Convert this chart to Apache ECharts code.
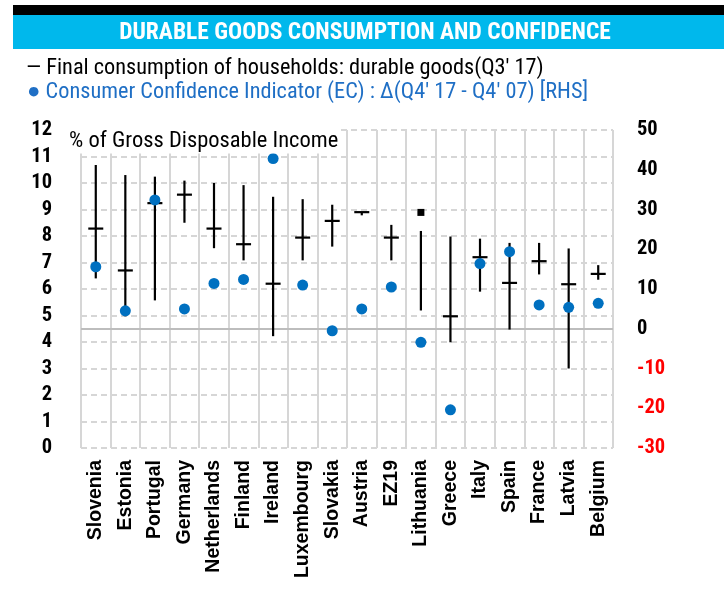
<!DOCTYPE html>
<html>
<head>
<meta charset="utf-8">
<script src="https://cdn.jsdelivr.net/npm/echarts@6/dist/echarts.min.js"></script>
<style>
html,body{margin:0;padding:0;background:#fff;}
#chart{width:724px;height:592px;}
</style>
</head>
<body>
<div id="chart"></div>
<script>
var categories = ['Slovenia','Estonia','Portugal','Germany','Netherlands','Finland','Ireland','Luxembourg','Slovakia','Austria','EZ19','Lithuania','Greece','Italy','Spain','France','Latvia','Belgium'];
// Final consumption of households: durable goods, % of gross disposable income
var rangeHigh  = [10.68,10.30,10.24,10.09,10.00,9.92,9.48,9.39,9.18,8.90,8.42,8.19,7.98,7.90,7.74,7.74,7.53,6.90];
var rangeLow   = [6.40,4.97,5.57,8.50,7.54,7.08,4.22,7.08,7.60,8.78,7.08,5.19,3.99,5.90,4.47,6.55,3.00,6.35];
var durableQ3  = [8.28,6.70,9.24,9.56,8.28,7.69,6.20,7.94,8.57,8.90,7.94,8.89,4.97,7.20,6.23,7.05,6.18,6.57];
// Consumer Confidence Indicator change (RHS)
var confidence = [15.6,4.5,32.4,5.0,11.4,12.4,42.8,11.0,-0.5,5.0,10.5,-3.4,-20.4,16.4,19.4,6.0,5.4,6.4];
var leftTicks  = {min:0, max:12, interval:1};
var rightTicks = {min:-30, max:50, interval:10};

var NARROW = "'Liberation Sans Narrow','Arial Narrow','Roboto Condensed','Liberation Sans',Arial,sans-serif";
var chart = echarts.init(document.getElementById('chart'), null, {renderer:'canvas'});

var rangeData = categories.map(function(c,i){ return [i, rangeHigh[i], rangeLow[i], durableQ3[i]]; });

chart.setOption({
  backgroundColor:'#ffffff',
  animation:false,
  graphic:[
    {type:'rect', left:13, top:5, shape:{width:711, height:10}, style:{fill:'#000'}},
    {type:'rect', left:13, top:15, shape:{width:711, height:34}, style:{fill:'#00B8EC'}},
    {type:'text', x:365, y:33, style:{text:'DURABLE GOODS CONSUMPTION AND CONFIDENCE', fill:'#fff', font:"bold 23.5px "+NARROW, textAlign:'center', textVerticalAlign:'middle'}},
    {type:'text', x:26, y:68, style:{text:'\u2014 Final consumption of households: durable goods(Q3\' 17)', fill:'#000', font:"22.3px "+NARROW, textAlign:'left', textVerticalAlign:'middle'}},
    {type:'text', x:27, y:92, style:{text:'\u25CF Consumer Confidence Indicator (EC) : \u0394(Q4\' 17 - Q4\' 07) [RHS]', fill:'#1F6FC5', font:"22.3px "+NARROW, textAlign:'left', textVerticalAlign:'middle'}},
    {type:'text', x:67, y:141, z:50, style:{text:'% of Gross Disposable Income', fill:'#000', font:"22.5px "+NARROW, textAlign:'left', textVerticalAlign:'middle', backgroundColor:'#fff', padding:[1,2]}}
  ],
  grid:{left:81, right:111, top:130, bottom:144, containLabel:false},
  xAxis:{
    type:'category', data:categories, boundaryGap:true,
    axisLine:{show:false}, axisTick:{show:false},
    splitLine:{show:true, lineStyle:{color:'#d6d6d6', width:2, type:'solid'}},
    axisLabel:{rotate:90, interval:0, margin:12, color:'#000', fontWeight:'bold', fontSize:19.5, fontFamily:"'Liberation Sans',Arial,sans-serif"}
  },
  yAxis:[
    {type:'value', min:leftTicks.min, max:leftTicks.max, interval:leftTicks.interval,
     axisLine:{show:false}, axisTick:{show:false},
     splitLine:{show:true, lineStyle:{color:'#d6d6d6', width:2, type:[6,4]}},
     axisLabel:{margin:29, color:'#000', fontWeight:'bold', fontSize:20.5, fontFamily:NARROW}},
    {type:'value', min:rightTicks.min, max:rightTicks.max, interval:rightTicks.interval, position:'right',
     axisLine:{show:false}, axisTick:{show:false}, splitLine:{show:false},
     axisLabel:{margin:24, fontWeight:'bold', fontSize:20.5, fontFamily:NARROW,
       color:function(v){ return Number(v) < 0 ? '#FF0000' : '#000'; }}}
  ],
  series:[
    {
      type:'custom', name:'Final consumption of households: durable goods(Q3\' 17)',
      xAxisIndex:0, yAxisIndex:0, z:5,
      data:rangeData,
      renderItem:function(params, api){
        var i = api.value(0);
        var hi = api.coord([i, api.value(1)]);
        var lo = api.coord([i, api.value(2)]);
        var cur = api.coord([i, api.value(3)]);
        var children = [];
        var outside = api.value(3) > api.value(1) + 0.05 || api.value(3) < api.value(2) - 0.05;
        children.push({type:'line', shape:{x1:hi[0], y1:hi[1], x2:lo[0], y2:lo[1]}, style:{stroke:'#000', lineWidth:2.2}});
        if (outside) {
          children.push({type:'rect', shape:{x:cur[0]-3.5, y:cur[1]-3.5, width:7, height:7}, style:{fill:'#000'}});
        } else {
          children.push({type:'line', shape:{x1:cur[0]-7.5, y1:cur[1], x2:cur[0]+7.5, y2:cur[1]}, style:{stroke:'#000', lineWidth:2.2}});
        }
        return {type:'group', children:children};
      }
    },
    {
      type:'scatter', name:'Consumer Confidence Indicator', xAxisIndex:0, yAxisIndex:1, z:6,
      data:confidence, symbol:'circle', symbolSize:11,
      itemStyle:{color:'#0070C0', opacity:1},
      emphasis:{disabled:true},
      markLine:{silent:true, symbol:['none','none'], label:{show:false}, z:3,
        lineStyle:{color:'#BDBDBD', width:2, type:'solid'},
        data:[{yAxis:0}]}
    }
  ]
});
</script>
</body>
</html>
